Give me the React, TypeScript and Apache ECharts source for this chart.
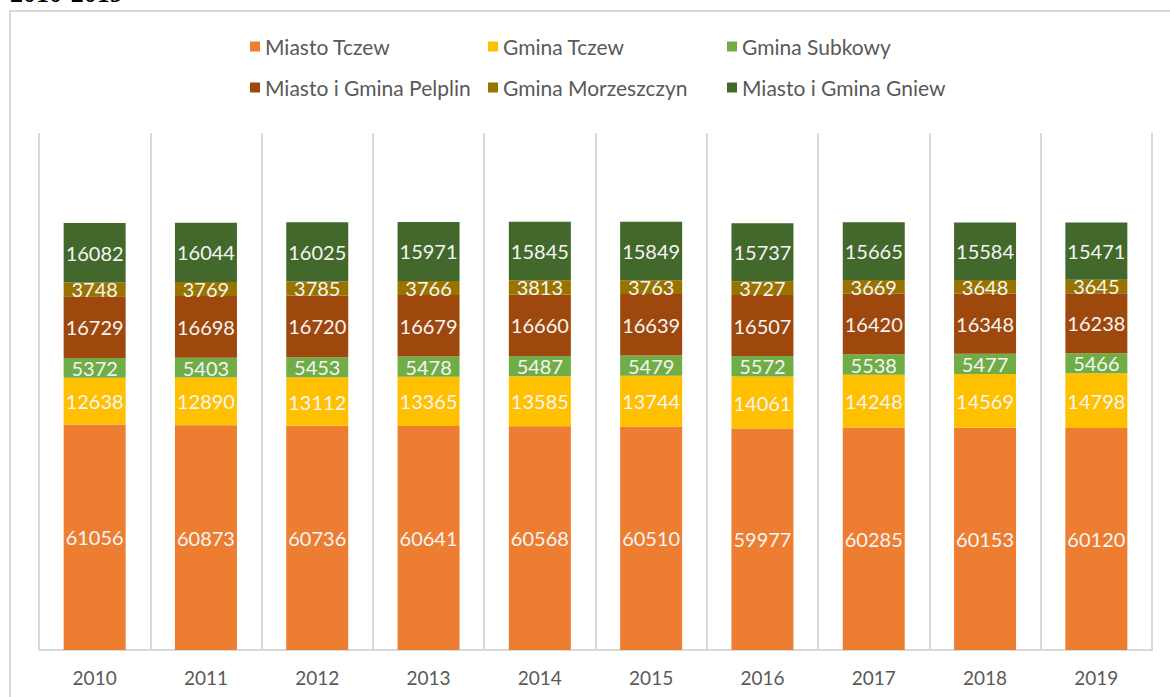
import React, { useEffect, useRef } from "react";
import * as echarts from "echarts";

const years = ["2010", "2011", "2012", "2013", "2014", "2015", "2016", "2017", "2018", "2019"];
const miastoTczew = [61056, 60873, 60736, 60641, 60568, 60510, 59977, 60285, 60153, 60120];
const gminaTczew = [12638, 12890, 13112, 13365, 13585, 13744, 14061, 14248, 14569, 14798];
const gminaSubkowy = [5372, 5403, 5453, 5478, 5487, 5479, 5572, 5538, 5477, 5466];
const pelplin = [16729, 16698, 16720, 16679, 16660, 16639, 16507, 16420, 16348, 16238];
const morzeszczyn = [3748, 3769, 3785, 3766, 3813, 3763, 3727, 3669, 3648, 3645];
const gniew = [16082, 16044, 16025, 15971, 15845, 15849, 15737, 15665, 15584, 15471];

const seriesDefs = [
  { name: "Miasto Tczew", data: miastoTczew, color: "#ED7D31" },
  { name: "Gmina Tczew", data: gminaTczew, color: "#FFC000" },
  { name: "Gmina Subkowy", data: gminaSubkowy, color: "#70AD47" },
  { name: "Miasto i Gmina Pelplin", data: pelplin, color: "#9E480E" },
  { name: "Gmina Morzeszczyn", data: morzeszczyn, color: "#997300" },
  { name: "Miasto i Gmina Gniew", data: gniew, color: "#43682B" },
];

const legendPos = [
  { left: 245, top: 31 },
  { left: 483, top: 31 },
  { left: 722, top: 31 },
  { left: 245, top: 72 },
  { left: 483, top: 72 },
  { left: 722, top: 72 },
];

export default function App() {
  const ref = useRef<HTMLDivElement>(null);
  useEffect(() => {
    if (!ref.current) return;
    const chart = echarts.init(ref.current, null, { renderer: "svg" });
    const font = "Lato, 'Open Sans', sans-serif";
    chart.setOption({
      animation: false,
      backgroundColor: "#ffffff",
      graphic: [
        {
          type: "rect",
          shape: { x: 10, y: 11, width: 1200, height: 720 },
          style: { fill: "none", stroke: "#d9d9d9", lineWidth: 2 },
          silent: true,
        },
        {
          type: "text",
          x: 10,
          y: -7,
          style: {
            text: "2010-2019",
            font: "bold 26px 'Liberation Serif', serif",
            fill: "#000000",
            verticalAlign: "middle",
          },
        },
      ],
      legend: seriesDefs.map((s, i) => ({
        data: [s.name],
        left: legendPos[i].left,
        top: legendPos[i].top,
        itemWidth: 10,
        itemHeight: 10,
        icon: "rect",
        textStyle: { color: "#595959", fontSize: 21, fontFamily: font },
        selectedMode: false,
      })),
      grid: { left: 39, right: 18, top: 133, bottom: 47, containLabel: false },
      xAxis: {
        type: "category",
        data: years,
        axisLine: { show: true, lineStyle: { color: "#d9d9d9", width: 2 } },
        axisTick: { show: false },
        splitLine: { show: true, lineStyle: { color: "#d9d9d9", width: 2 } },
        axisLabel: { color: "#595959", fontSize: 19, fontFamily: font, margin: 18 },
      },
      yAxis: {
        type: "value",
        min: 0,
        max: 140000,
        show: false,
        splitLine: { show: false },
      },
      series: seriesDefs.map((s) => ({
        name: s.name,
        type: "bar",
        stack: "total",
        data: s.data,
        barWidth: 62,
        itemStyle: { color: s.color },
        label: {
          show: true,
          position: "inside",
          color: "#f5f5f5",
          fontSize: 20,
          fontFamily: font,
        },
      })),
    });
    return () => chart.dispose();
  }, []);
  return (
    <div
      ref={ref}
      style={{ position: "absolute", left: 0, top: 0, width: 1170, height: 697 }}
    />
  );
}
